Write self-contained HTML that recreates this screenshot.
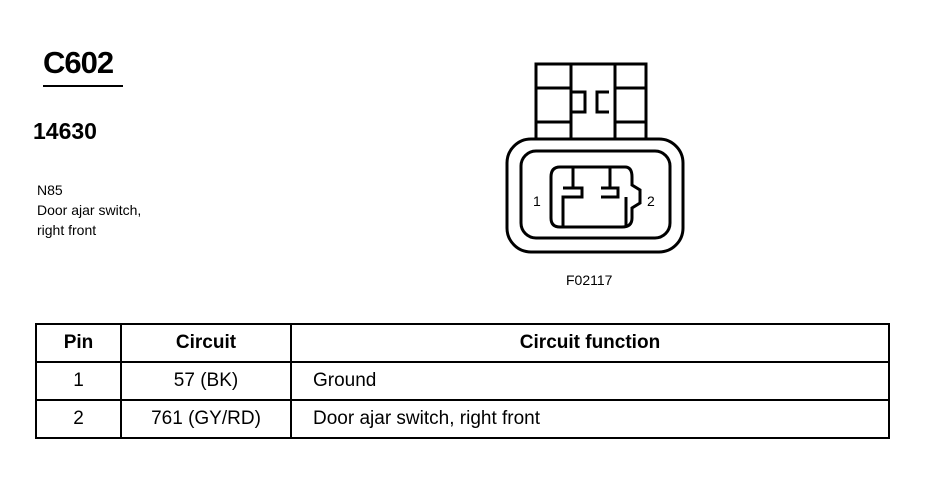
<!DOCTYPE html>
<html><head><style>
body{margin:0;width:940px;height:480px;background:#fff;position:relative;font-family:"Liberation Sans",Arial,sans-serif;color:#000;overflow:hidden}
.t{position:absolute;white-space:nowrap}
table{position:absolute;left:35px;top:323px;border-collapse:collapse;font-size:19px}
td{border:2px solid #000;height:36px;padding:0}
</style></head><body>
<div class="t" style="left:43px;top:45px;font-size:31px;font-weight:bold;letter-spacing:-1px">C602</div>
<div style="position:absolute;left:43px;top:85px;width:80px;height:2px;background:#000"></div>
<div class="t" style="left:33px;top:118px;font-size:23px;font-weight:bold">14630</div>
<div class="t" style="left:37px;top:180px;font-size:14px;line-height:20px">N85<br>Door ajar switch,<br>right front</div>
<svg style="position:absolute;left:0;top:0" width="940" height="480">
<g fill="none" stroke="#000" stroke-width="3">
<rect x="536" y="64" width="110" height="76"/>
<line x1="571" y1="64" x2="571" y2="140"/><line x1="615" y1="64" x2="615" y2="140"/>
<line x1="536" y1="88" x2="571" y2="88"/><line x1="615" y1="88" x2="646" y2="88"/>
<line x1="536" y1="122" x2="571" y2="122"/><line x1="615" y1="122" x2="646" y2="122"/>
<path d="M571 92 H585 V112 H571"/><path d="M609 92 H597 V112 H609"/>
<rect x="507" y="139" width="176" height="113" rx="24" fill="#fff"/>
<rect x="521" y="151" width="149" height="87" rx="15"/>
<path d="M560 167 H625 Q632 167 632 177 V185 L640 190 V203 L632 208 V218 Q632 227 622 227 H560 Q551 227 551 218 V177 Q551 167 560 167 Z"/>
<path d="M573 167 V188 M563 188 H582 V197 H563 V227"/>
<path d="M610 167 V188 M601 188 H618 V197 H601"/>
<path d="M626 197 V227"/>
</g>
<text x="533" y="206" font-size="14" font-family="Liberation Sans">1</text>
<text x="647" y="206" font-size="14" font-family="Liberation Sans">2</text>
<text x="566" y="285" font-size="14" font-family="Liberation Sans">F02117</text>
</svg>
<table>
<tr style="font-weight:bold"><td style="width:83px;text-align:center">Pin</td><td style="width:168px;text-align:center">Circuit</td><td style="width:596px;text-align:center">Circuit function</td></tr>
<tr><td style="text-align:center">1</td><td style="text-align:center">57 (BK)</td><td style="padding-left:21px">Ground</td></tr>
<tr><td style="text-align:center">2</td><td style="text-align:center">761 (GY/RD)</td><td style="padding-left:21px">Door ajar switch, right front</td></tr>
</table>
</body></html>
